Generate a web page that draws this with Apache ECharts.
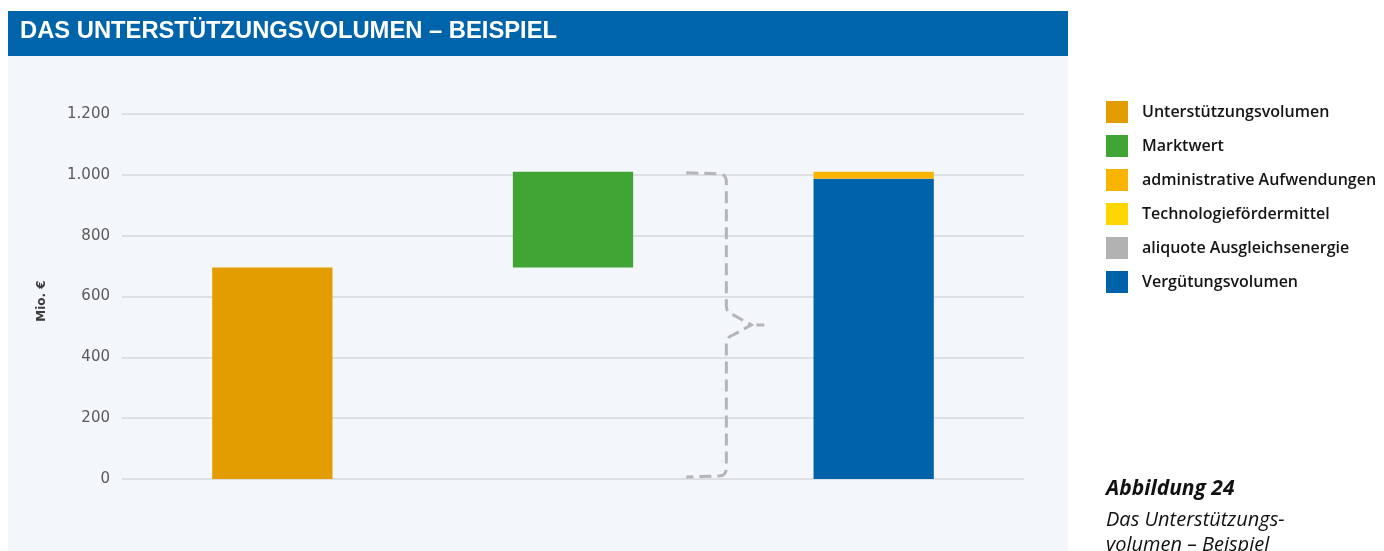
<!DOCTYPE html>
<html>
<head>
<meta charset="utf-8">
<script src="https://cdn.jsdelivr.net/npm/echarts@6/dist/echarts.min.js"></script>
<style>
  html, body { margin: 0; padding: 0; background: #ffffff; }
  #chart { width: 1384px; height: 551px; }
</style>
</head>
<body>
<div id="chart"></div>
<script>
// categories (no visible labels in the picture)
var categories = ['Unterstützung', 'Marktwert', 'Vergütung'];

// series values, Mio. €
var baseValues      = ['-', 695, '-'];      // invisible base for the floating green bar
var unterstuetzung  = [695, '-', '-'];
var marktwert       = ['-', 315, '-'];
var verguetung      = ['-', '-', 987];
var administrativ   = ['-', '-', 23];
var technologie     = ['-', '-', 0];
var ausgleich       = ['-', '-', 0];

// brace annotation: [category index, from, to]
var braceRange = [[1, 0, 1010]];

var yTicks = { min: 0, max: 1200, interval: 200 };

var colors = {
    unterstuetzung: '#e49d00',
    marktwert: '#40a535',
    administrativ: '#f8b400',
    technologie: '#ffd600',
    ausgleich: '#b2b2b2',
    verguetung: '#0063a9'
};

var titleText = 'DAS UNTERSTÜTZUNGSVOLUMEN – BEISPIEL';
var titleFont = 'bold 23px "Liberation Sans", sans-serif';

function deNumber(v) {
    return String(v).replace(/\B(?=(\d{3})+(?!\d))/g, '.');
}

// squeeze the header text to the condensed width of the original
var ctx = document.createElement('canvas').getContext('2d');
ctx.font = titleFont;
var titleScale = 537 / ctx.measureText(titleText).width;

var myChart = echarts.init(document.getElementById('chart'));

function barSeries(name, data, color) {
    return {
        name: name,
        type: 'bar',
        stack: 'total',
        barWidth: '40%',
        data: data,
        itemStyle: { color: color },
        emphasis: { disabled: true }
    };
}

var option = {
    backgroundColor: '#ffffff',
    animation: false,
    graphic: [
        // chart panel background
        { type: 'rect', left: 8, top: 56, z: -10, silent: true,
          shape: { width: 1060, height: 495 }, style: { fill: '#f3f6fa' } },
        // header bar
        { type: 'rect', left: 8, top: 11, z: -10, silent: true,
          shape: { width: 1060, height: 45 }, style: { fill: '#0064aa' } },
        { type: 'text', x: 20, y: 20, scaleX: titleScale, silent: true,
          style: { text: titleText, fill: '#ffffff', font: titleFont } },
        // y axis title
        { type: 'text', x: 42, y: 301, rotation: Math.PI / 2, silent: true,
          style: { text: 'Mio. €', fill: '#3a3a3a', align: 'center', verticalAlign: 'middle',
                   font: 'bold 12px "DejaVu Sans", sans-serif' } },
        // caption
        { type: 'text', left: 1106, top: 479, silent: true,
          style: { text: 'Abbildung 24', fill: '#111111',
                   font: 'italic bold 21px "Open Sans", sans-serif' } },
        { type: 'text', left: 1106, top: 508, silent: true,
          style: { text: 'Das Unterstützungs-\nvolumen – Beispiel', fill: '#111111', lineHeight: 25,
                   font: 'italic 20px "Open Sans", sans-serif' } }
    ],
    legend: {
        orient: 'vertical',
        left: 1106,
        top: 101,
        padding: 0,
        itemWidth: 22,
        itemHeight: 22,
        itemGap: 12,
        icon: 'rect',
        selectedMode: false,
        data: ['Unterstützungsvolumen', 'Marktwert', 'administrative Aufwendungen',
               'Technologiefördermittel', 'aliquote Ausgleichsenergie', 'Vergütungsvolumen'],
        textStyle: { fontFamily: 'Open Sans', fontSize: 16, fontWeight: 600, color: '#141414', padding: [0, 0, 0, 9] }
    },
    grid: { left: 122, right: 360, top: 114, bottom: 72 },
    xAxis: {
        type: 'category',
        data: categories,
        axisLine: { show: false },
        axisTick: { show: false },
        axisLabel: { show: false }
    },
    yAxis: {
        type: 'value',
        min: yTicks.min,
        max: yTicks.max,
        interval: yTicks.interval,
        axisLine: { show: false },
        axisTick: { show: false },
        axisLabel: {
            margin: 12,
            fontFamily: 'DejaVu Sans',
            fontSize: 15,
            color: '#5a5a5a',
            formatter: deNumber
        },
        splitLine: { lineStyle: { color: '#d5d8dc', width: 1.5 } }
    },
    series: [
        {
            name: 'base',
            type: 'bar',
            stack: 'total',
            barWidth: '40%',
            data: baseValues,
            itemStyle: { color: 'transparent' },
            silent: true
        },
        barSeries('Unterstützungsvolumen', unterstuetzung, colors.unterstuetzung),
        barSeries('Marktwert', marktwert, colors.marktwert),
        barSeries('Vergütungsvolumen', verguetung, colors.verguetung),
        barSeries('administrative Aufwendungen', administrativ, colors.administrativ),
        barSeries('Technologiefördermittel', technologie, colors.technologie),
        barSeries('aliquote Ausgleichsenergie', ausgleich, colors.ausgleich),
        {
            // dashed curly brace between the 2nd and 3rd bar
            name: 'brace',
            type: 'custom',
            silent: true,
            data: braceRange,
            renderItem: function (params, api) {
                var a = api.coord([api.value(0), api.value(1)]);
                var b = api.coord([api.value(0) + 1, api.value(1)]);
                var x = (a[0] + b[0]) / 2 + 3;
                var yBot = a[1] - 2;
                var yTop = api.coord([api.value(0), api.value(2)])[1] + 1;
                var yMid = (yTop + yBot) / 2;
                var d = 'M' + (x - 40) + ',' + (yTop) +
                    ' L' + (x - 8) + ',' + (yTop + 1) +
                    ' Q' + x + ',' + (yTop + 1) + ' ' + x + ',' + (yTop + 9) +
                    ' L' + x + ',' + (yMid - 19) +
                    ' Q' + x + ',' + (yMid - 12) + ' ' + (x + 7) + ',' + (yMid - 10) +
                    ' L' + (x + 25) + ',' + yMid +
                    ' L' + (x + 7) + ',' + (yMid + 10) +
                    ' Q' + x + ',' + (yMid + 12) + ' ' + x + ',' + (yMid + 19) +
                    ' L' + x + ',' + (yBot - 9) +
                    ' Q' + x + ',' + (yBot - 1) + ' ' + (x - 8) + ',' + (yBot - 1) +
                    ' L' + (x - 40) + ',' + yBot +
                    ' M' + (x + 30) + ',' + yMid + ' L' + (x + 38) + ',' + yMid;
                return {
                    type: 'path',
                    shape: { pathData: d },
                    style: { fill: 'none', stroke: '#b3b5b8', lineWidth: 3, lineDash: [12, 6] }
                };
            }
        }
    ]
};

myChart.setOption(option);
</script>
</body>
</html>
